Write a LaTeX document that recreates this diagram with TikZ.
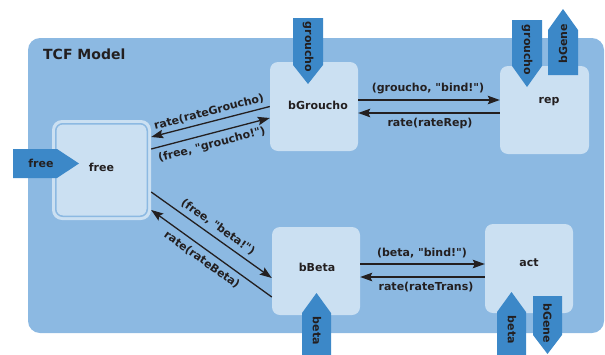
\documentclass[tikz,border=0pt]{standalone}
\usepackage{fontspec}
\setmainfont{DejaVu Sans}[Ligatures=TeXOff]
\usetikzlibrary{arrows.meta}
\definecolor{panelblue}{HTML}{8CB9E2}
\definecolor{boxfill}{HTML}{CBE0F2}
\definecolor{portblue}{HTML}{3C88C8}
\definecolor{ink}{HTML}{231F20}

\begin{document}
\begin{tikzpicture}[x=1pt,y=-1pt,
  state/.style={fill=boxfill, draw=none, rounded corners=8pt, inner sep=0pt,
                minimum width=88pt, minimum height=88pt},
  lbl/.style={font=\fontsize{11}{13}\selectfont\bfseries, text=ink, inner sep=0pt},
  title/.style={font=\fontsize{14}{16}\selectfont\bfseries, text=ink, inner sep=0pt},
  port/.style={fill=portblue, draw=none},
  conn/.style={draw=ink, line width=1.3pt,
               -{Stealth[length=12pt,width=8.5pt,inset=2pt]}},
]
\useasboundingbox (0,0) rectangle (605,354);

% model panel
\fill[panelblue, rounded corners=12pt] (28,38) rectangle (604,333);
\node[title, anchor=west] (model) at (43,54) {TCF Model};

% states
\node[fill=boxfill, rounded corners=10pt, minimum width=99pt, minimum height=100pt,
      inner sep=0pt] (free) at (101.5,170) {};
\node[fill=boxfill, draw=panelblue, line width=1.5pt, rounded corners=7pt,
      minimum width=91.5pt, minimum height=92.5pt, inner sep=0pt,
      label={[lbl, yshift=3pt]center:free}] (freeInner) at (free.center) {};

\node[state, minimum height=89pt,
      label={[lbl, xshift=4pt, yshift=1.5pt]center:bGroucho}] (bGroucho) at (314,106.5) {};
\node[state, minimum width=89pt,
      label={[lbl, xshift=4.5pt, yshift=8pt]center:rep}] (rep) at (544.5,110) {};
\node[state,
      label={[lbl, xshift=1pt, yshift=4pt]center:bBeta}] (bBeta) at (316,271) {};
\node[state, minimum height=89pt,
      label={[lbl, yshift=5.5pt]center:act}] (act) at (529,268.5) {};

% transitions
\draw[conn] (bGroucho.west) -- ([yshift=33pt]free.east);
\draw[conn] ([yshift=21pt]free.east) -- ([yshift=-11.5pt]bGroucho.west);
\draw[conn] ([yshift=6.5pt]bGroucho.east) -- ([yshift=10pt]rep.west);
\draw[conn] ([yshift=-3pt]rep.west) -- ([yshift=-6.5pt]bGroucho.east);
\draw[conn] ([yshift=-22pt]free.east) -- ([yshift=-7pt]bBeta.west);
\draw[conn] ([yshift=-26pt]bBeta.west) -- ([yshift=-40pt]free.east);
\draw[conn] ([yshift=7pt]bBeta.east) -- ([yshift=4.5pt]act.west);
\draw[conn] ([yshift=-8.5pt]act.west) -- ([yshift=-6pt]bBeta.east);

% transition labels
\node[lbl, rotate=14.6] (tRateGroucho) at (209,112) {rate(rateGroucho)};
\node[lbl, rotate=14.6] (tFreeGroucho) at (212,145) {(free, "groucho!")};
\node[lbl] (tBindGroucho) at (428,89) {(groucho, "bind!")};
\node[lbl] (tRateRep) at (430,123) {rate(rateRep)};
\node[lbl, rotate=-35.5] (tFreeBeta) at (218,227) {(free, "beta!")};
\node[lbl, rotate=-35.5] (tRateBeta) at (202,260) {rate(rateBeta)};
\node[lbl] (tBindBeta) at (422,253) {(beta, "bind!")};
\node[lbl] (tRateTrans) at (426,287) {rate(rateTrans)};

% ports
\fill[port] (13,149) -- (57,149) -- (79,163.5) -- (57,178) -- (13,178) -- cycle;
\node[lbl] (pFree) at (41,163) {free};

\fill[port] (293,18) -- (323,18) -- (323,65) -- (308,84) -- (293,65) -- cycle;
\node[lbl, rotate=-90] (pGrouchoA) at (308,47) {groucho};

\fill[port] (512,20) -- (542,20) -- (542,66) -- (527,87) -- (512,66) -- cycle;
\node[lbl, rotate=-90] (pGrouchoB) at (527,50) {groucho};

\fill[port] (548,75) -- (548,30) -- (563,9) -- (578,30) -- (578,75) -- cycle;
\node[lbl, rotate=90] (pGeneA) at (563,44) {bGene};

\fill[port] (302,356) -- (302,313) -- (316.5,293) -- (331,313) -- (331,356) -- cycle;
\node[lbl, rotate=-90] (pBetaA) at (317,331) {beta};

\fill[port] (497,356) -- (497,312) -- (511.5,292) -- (526,312) -- (526,356) -- cycle;
\node[lbl, rotate=-90] (pBetaB) at (512,330) {beta};

\fill[port] (533,296) -- (562,296) -- (562,335) -- (547.5,354) -- (533,335) -- cycle;
\node[lbl, rotate=-90] (pGeneB) at (547.5,323) {bGene};
\end{tikzpicture}
\end{document}
